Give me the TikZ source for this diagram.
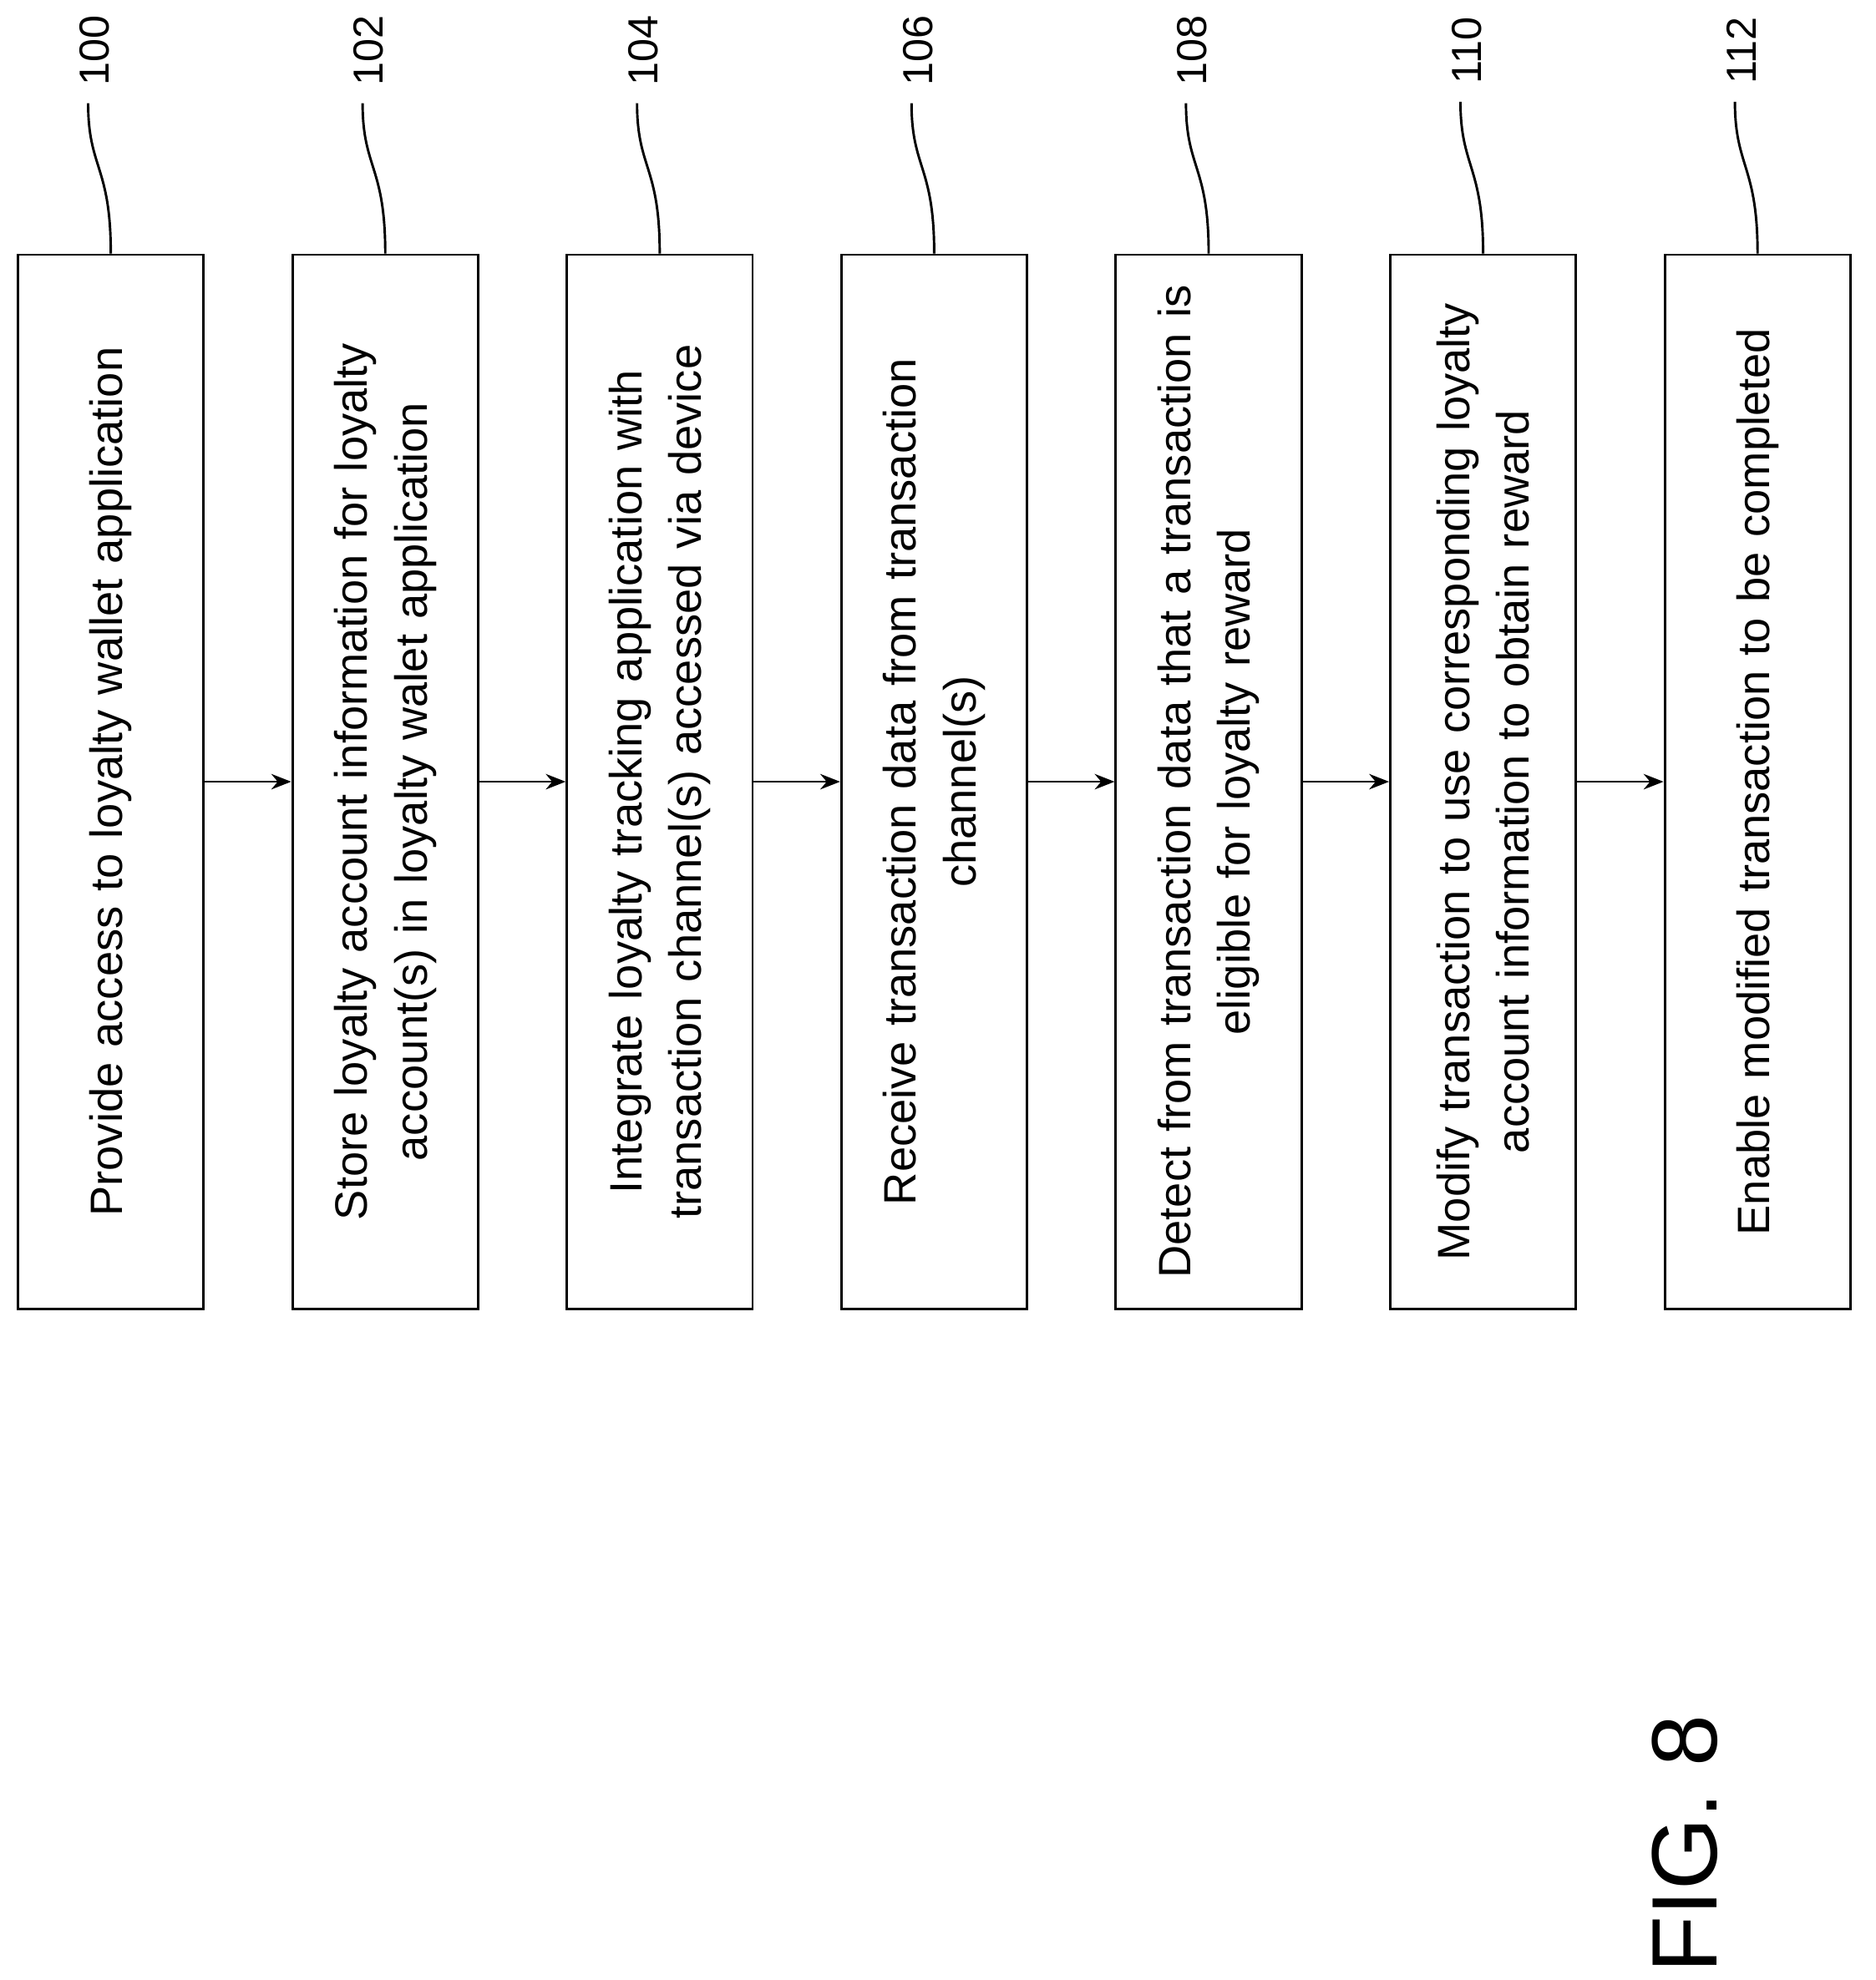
\documentclass[tikz,border=0pt]{standalone}
\usepackage{fontspec}
\setmainfont{Liberation Sans}
\usetikzlibrary{arrows.meta, calc}

\tikzset{
  stepbox/.style={draw, line width=1.1pt, rotate=90, minimum width=16.75cm, minimum height=2.95cm,
    text width=16.5cm, align=center, inner sep=0pt, font=\fontsize{20.5}{27}\selectfont},
  reflabel/.style={rotate=90, font=\fontsize{19}{22}\selectfont},
  flow/.style={-{Stealth[length=9pt,width=7pt]}, line width=0.9pt},
  leader/.style={line width=1.1pt}
}

\begin{document}
\begin{tikzpicture}[x=0.02cm, y=-0.02cm]
  \useasboundingbox (0,0) rectangle (1490,1573);

  \node[stepbox] (b100) at (88,621) {Provide access to loyalty wallet application};
  \node[stepbox] (b102) at (306,621) {Store loyalty account information for loyalty\\account(s) in loyalty walet application};
  \node[stepbox] (b104) at (524,621) {Integrate loyalty tracking application with\\transaction channel(s) accessed via device};
  \node[stepbox] (b106) at (742,621) {Receive transaction data from transaction\\channel(s)};
  \node[stepbox] (b108) at (960,621) {Detect from transaction data that a transaction is\\eligible for loyalty reward};
  \node[stepbox] (b110) at (1178,621) {Modify transaction to use corresponding loyalty\\account information to obtain reward};
  \node[stepbox] (b112) at (1396,621) {Enable modified transaction to be completed};

  % reference numerals
  \foreach \n/\x in {100/75, 102/293, 104/511, 106/729, 108/947, 110/1165, 112/1383} {
    \node[reflabel] (l\n) at (\x,40) {\n};
    \draw[leader] (b\n.east) .. controls ($(b\n.east)+(0,-70)$) and ($(l\n.west)+(-5,60)$) .. ($(l\n.west)+(-5,8)$);
  }

  % flow
  \draw[flow] (b100.south) -- (b102.north);
  \draw[flow] (b102.south) -- (b104.north);
  \draw[flow] (b104.south) -- (b106.north);
  \draw[flow] (b106.south) -- (b108.north);
  \draw[flow] (b108.south) -- (b110.north);
  \draw[flow] (b110.south) -- (b112.north);

  \node[rotate=90, font=\fontsize{42}{48}\selectfont] (fig) at (1338,1465) {FIG. 8};
\end{tikzpicture}
\end{document}
